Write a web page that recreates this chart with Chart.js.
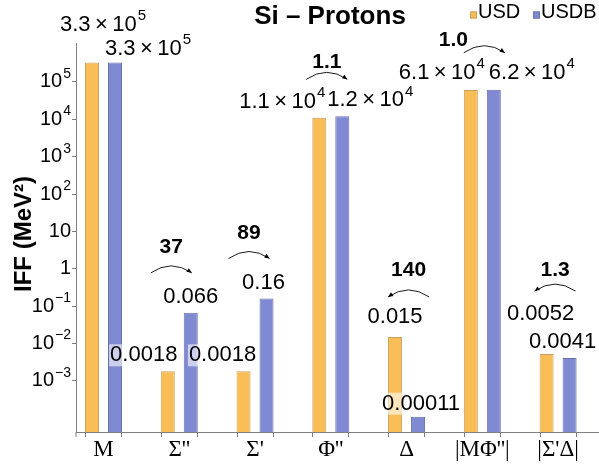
<!DOCTYPE html>
<html>
<head>
<meta charset="utf-8">
<script src="https://cdn.jsdelivr.net/npm/chart.js@4.4.0/dist/chart.umd.min.js"></script>
<style>
  html, body { margin: 0; padding: 0; background: #fff; }
  canvas { display: block; }
</style>
</head>
<body>
<canvas id="chart" width="599" height="465"></canvas>
<script>
// operators on the x axis and the IFF values for the two interactions
const categories = ["M", "Σ''", "Σ'", "Φ''", "Δ", "|MΦ''|", "|Σ'Δ|"];
const usd  = [3.3e5, 0.0018, 0.0018, 1.1e4, 0.015, 6.1e4, 0.0052];
const usdb = [3.3e5, 0.066, 0.16, 1.2e4, 0.00011, 6.2e4, 0.0041];
const ratios = [null, "37", "89", "1.1", "140", "1.0", "1.3"];
const yTicks = [1e-3, 1e-2, 1e-1, 1, 10, 1e2, 1e3, 1e4, 1e5];

// where the value labels sit, in px from the top of their bar
const usdLabelOffset  = [[11, -38], [-24, -16], [-21, -16], [-37, -16], [0, -20], [-29, -17], [-6, -40]];
const usdbLabelOffset = [[33, -14], [0, -16], [-3, -16], [28, -16], [3, -13], [38, -17], [-7, -16]];
// ratio arrows: [arrow dx, arrow dy, text dx, text dy] from group centre / highest bar top
const arrowOffset = [null, [-8, -40, -8, -66], [-6, -40, -6, -65], [-4, -37, -4, -54],
                     [2, -40, 2, -67], [2, -37, -29, -49], [-3, -63, -3, -84]];

const SANS = '"Liberation Sans", Arial, Helvetica, sans-serif';
const SERIF = '"Liberation Serif", "Times New Roman", serif';
const orange = "#F9BD55", orangeEdge = "#C9A060";
const blue = "#7F8AD3", blueEdge = "#6A72A8";
const axisGray = "#808080";

function splitValue(v) {
  if (v >= 1e4) {
    const e = Math.floor(Math.log10(v));
    return { base: (v / Math.pow(10, e)).toFixed(1) + "\u2009\u00d7\u200910", exp: String(e) };
  }
  return { base: String(v), exp: null };
}

// draws "base" with an optional raised exponent, y is the middle of the main text
function drawPow(ctx, base, exp, x, y, size, align, bg) {
  const es = Math.round(size * 0.68);
  ctx.font = size + "px " + SANS;
  const wb = ctx.measureText(base).width;
  let we = 0;
  if (exp) { ctx.font = es + "px " + SANS; we = ctx.measureText(exp).width + 1; }
  const w = wb + we;
  const left = align === "right" ? x - w : align === "center" ? x - w / 2 : x;
  if (bg) {
    ctx.fillStyle = "rgba(255,255,255,0.6)";
    ctx.fillRect(left - 1, y - size * 0.5, w + 2, size * 1.0);
  }
  ctx.fillStyle = "#000";
  ctx.textAlign = "left";
  ctx.textBaseline = "middle";
  ctx.font = size + "px " + SANS;
  ctx.fillText(base, left, y);
  if (exp) {
    ctx.font = es + "px " + SANS;
    ctx.fillText(exp, left + wb + 1, y - size * 0.4);
  }
}

function drawArrow(ctx, x1, x2, y) {
  const mx = (x1 + x2) / 2, cy = y - 14;
  ctx.strokeStyle = "#000";
  ctx.lineWidth = 0.9;
  ctx.beginPath();
  ctx.moveTo(x1, y);
  ctx.quadraticCurveTo(mx, cy, x2, y);
  ctx.stroke();
  const ang = Math.atan2(y - cy, x2 - mx);
  const L = 5, W = 2.2;
  const bx = x2 - L * Math.cos(ang), by = y - L * Math.sin(ang);
  ctx.fillStyle = "#000";
  ctx.beginPath();
  ctx.moveTo(x2, y);
  ctx.lineTo(bx - W * Math.sin(ang), by + W * Math.cos(ang));
  ctx.lineTo(bx + W * Math.sin(ang), by - W * Math.cos(ang));
  ctx.closePath();
  ctx.fill();
}

const annotate = {
  id: "annotate",
  afterDatasetsDraw(chart) {
    const ctx = chart.ctx;
    const m0 = chart.getDatasetMeta(0), m1 = chart.getDatasetMeta(1);
    ctx.save();
    [[m0, usd, usdLabelOffset], [m1, usdb, usdbLabelOffset]].forEach(([meta, vals, offs]) => {
      meta.data.forEach((bar, i) => {
        const p = splitValue(vals[i]);
        drawPow(ctx, p.base, p.exp, bar.x + offs[i][0], bar.y + offs[i][1], 22, "center", true);
      });
    });
    categories.forEach((c, i) => {
      if (!ratios[i]) return;
      const a = m0.data[i], b = m1.data[i];
      const cx = (a.x + b.x) / 2, top = Math.min(a.y, b.y);
      const o = arrowOffset[i];
      const dir = usdb[i] >= usd[i] ? 1 : -1;
      drawArrow(ctx, cx + o[0] - dir * 20.5, cx + o[0] + dir * 20.5, top + o[1]);
      ctx.fillStyle = "#000";
      ctx.font = "bold 21px " + SANS;
      ctx.textAlign = "center";
      ctx.textBaseline = "middle";
      ctx.fillText(ratios[i], cx + o[2], top + o[3]);
    });
    ctx.restore();
  },
  afterDraw(chart) {
    const ctx = chart.ctx;
    const xs = chart.scales.x, ys = chart.scales.y;
    const m0 = chart.getDatasetMeta(0), m1 = chart.getDatasetMeta(1);
    const bottom = chart.chartArea.bottom, left = chart.chartArea.left;
    ctx.save();

    // y tick labels 10^n
    yTicks.forEach(v => {
      const e = Math.round(Math.log10(v));
      const y = ys.getPixelForValue(v);
      if (e === 0) drawPow(ctx, "1", null, 71, y, 20, "right");
      else if (e === 1) drawPow(ctx, "10", null, 71, y, 20, "right");
      else drawPow(ctx, "10", e < 0 ? "\u2212" + (-e) : String(e), 71, y, 20, "right");
    });

    // x tick marks at the outer bar edges, and category labels
    ctx.strokeStyle = axisGray;
    ctx.lineWidth = 1;
    ctx.beginPath();
    ctx.moveTo(left, bottom);
    ctx.lineTo(left, bottom + 5);
    categories.forEach((c, i) => {
      const a = m0.data[i], b = m1.data[i];
      const xl = Math.round(a.x - a.width / 2) + 0.5, xr = Math.round(b.x + b.width / 2) - 0.5;
      ctx.moveTo(xl, bottom); ctx.lineTo(xl, bottom + 5);
      ctx.moveTo(xr, bottom); ctx.lineTo(xr, bottom + 5);
    });
    ctx.stroke();
    ctx.fillStyle = "#000";
    ctx.font = "23px " + SERIF;
    ctx.textAlign = "center";
    ctx.textBaseline = "middle";
    categories.forEach((c, i) => ctx.fillText(c, xs.getPixelForValue(i), bottom + 18));

    // axis title
    ctx.save();
    ctx.translate(24, 234);
    ctx.rotate(-Math.PI / 2);
    ctx.font = "bold 24px " + SANS;
    ctx.fillText("IFF (MeV\u00b2)", 0, 0);
    ctx.restore();

    // title
    ctx.font = "bold 26px " + SANS;
    ctx.fillText("Si \u2013 Protons", 330, 17);

    // legend
    ctx.font = "20px " + SANS;
    ctx.textAlign = "left";
    [[orange, orangeEdge, "USD", 470], [blue, blueEdge, "USDB", 533]].forEach(([f, s, t, x]) => {
      ctx.fillStyle = f;
      ctx.fillRect(x, 11.5, 7, 7);
      ctx.strokeStyle = s;
      ctx.strokeRect(x + 0.5, 12, 6, 6);
      ctx.fillStyle = "#000";
      ctx.fillText(t, x + 8, 12);
    });
    ctx.restore();
  }
};

new Chart(document.getElementById("chart"), {
  type: "bar",
  data: {
    datasets: [
      { label: "USD", data: usd.map((v, i) => ({ x: i, y: v })),
        backgroundColor: orange, borderColor: orangeEdge, borderWidth: 1 },
      { label: "USDB", data: usdb.map((v, i) => ({ x: i, y: v })),
        backgroundColor: blue, borderColor: blueEdge, borderWidth: 1 }
    ]
  },
  options: {
    responsive: false,
    animation: false,
    categoryPercentage: 0.607,
    barPercentage: 0.61,
    layout: { padding: { top: 43, right: 0, bottom: 0, left: 0 } },
    plugins: { legend: { display: false }, title: { display: false }, tooltip: { enabled: false } },
    scales: {
      x: {
        type: "linear",
        min: -0.363,
        max: 6.54,
        offset: false,
        afterBuildTicks: s => { s.ticks = categories.map((c, i) => ({ value: i })); },
        afterFit: s => { s.height = 33; },
        ticks: { display: false },
        grid: { display: false },
        border: { display: true, color: axisGray, width: 1 }
      },
      y: {
        type: "logarithmic",
        min: 4.28e-5,
        max: 1.1e6,
        bounds: "data",
        afterBuildTicks: s => { s.ticks = yTicks.map(v => ({ value: v })); },
        afterFit: s => { s.width = 76; },
        ticks: { display: false },
        grid: { drawOnChartArea: false, drawTicks: true, tickLength: 4, color: axisGray },
        border: { display: true, color: axisGray, width: 1 }
      }
    }
  },
  plugins: [annotate]
});
</script>
</body>
</html>
